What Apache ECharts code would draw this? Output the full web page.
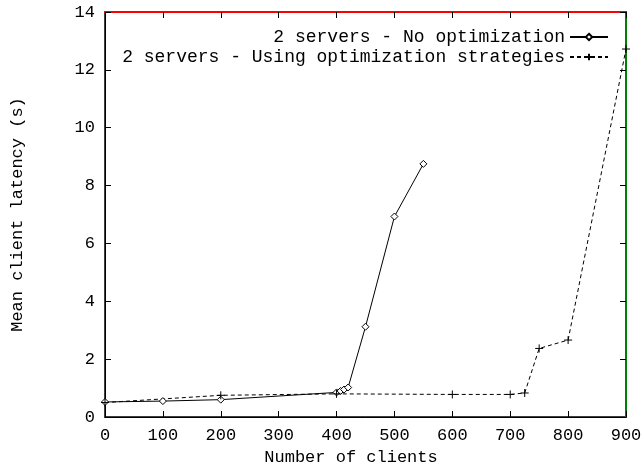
<!DOCTYPE html>
<html>
<head>
<meta charset="utf-8">
<script src="https://cdn.jsdelivr.net/npm/echarts@6/dist/echarts.min.js"></script>
<style>
html,body{margin:0;padding:0;background:#fff;}
#chart{width:642px;height:462px;}
</style>
</head>
<body>
<div id="chart"></div>
<script>
// Data
const seriesNames = ['2 servers - No optimization', '2 servers - Using optimization strategies'];
const clientsNoOpt = [0, 100, 200, 400, 407, 413, 420, 450, 500, 550];
const latencyNoOpt = [0.52, 0.55, 0.6, 0.85, 0.9, 0.95, 1.02, 3.12, 6.93, 8.75];
const clientsOpt = [0, 200, 400, 600, 700, 725, 750, 800, 900];
const latencyOpt = [0.5, 0.75, 0.8, 0.78, 0.78, 0.83, 2.37, 2.66, 12.72];
const xTicks = [0, 100, 200, 300, 400, 500, 600, 700, 800, 900];
const yTicks = [0, 2, 4, 6, 8, 10, 12, 14];

const FONT = 'Liberation Mono';
const FS = 17;
const pairs = (xs, ys) => xs.map((x, i) => [x, ys[i]]);

const chart = echarts.init(document.getElementById('chart'));

chart.setOption({
  animation: false,
  textStyle: {fontFamily: FONT, color: '#000'},
  grid: {left: 105, right: 16, top: 12, bottom: 45, outerBoundsMode: 'none',
         show: true, borderColor: '#000', borderWidth: 1.5},
  legend: {
    orient: 'vertical', align: 'right', right: 28, top: 23,
    itemWidth: 38, itemHeight: 8, itemGap: 2,
    textStyle: {fontFamily: FONT, fontSize: 18, color: '#000'},
    data: seriesNames
  },
  xAxis: [
    {type: 'value', min: xTicks[0], max: xTicks[xTicks.length - 1], interval: 100, position: 'bottom',
     axisLine: {show: true, onZero: false, lineStyle: {color: '#000'}},
     axisTick: {inside: true, length: 6}, splitLine: {show: false},
     axisLabel: {margin: 10, fontFamily: FONT, fontSize: FS, color: '#000'},
     name: 'Number of clients', nameLocation: 'middle', nameGap: 27,
     nameTextStyle: {fontFamily: FONT, fontSize: FS, color: '#000', padding: [0, 29, 0, 0]}},
    {type: 'value', min: xTicks[0], max: xTicks[xTicks.length - 1], interval: 100, position: 'top',
     axisLine: {show: true, onZero: false, lineStyle: {color: 'red', width: 2}},
     axisTick: {inside: true, length: 6, lineStyle: {color: '#000'}}, splitLine: {show: false}, axisLabel: {show: false}}
  ],
  yAxis: [
    {type: 'value', min: yTicks[0], max: yTicks[yTicks.length - 1], interval: 2, position: 'left',
     axisLine: {show: true, onZero: false, lineStyle: {color: '#000'}},
     axisTick: {show: true, inside: true, length: 6}, splitLine: {show: false},
     axisLabel: {margin: 10, fontFamily: FONT, fontSize: FS, color: '#000'},
     name: 'Mean client latency (s)', nameLocation: 'middle', nameGap: 79,
     nameTextStyle: {fontFamily: FONT, fontSize: FS, color: '#000'}},
    {type: 'value', min: yTicks[0], max: yTicks[yTicks.length - 1], interval: 2, position: 'right',
     axisLine: {show: true, onZero: false, lineStyle: {color: 'green', width: 2}},
     axisTick: {show: true, inside: true, length: 6, lineStyle: {color: '#000'}}, splitLine: {show: false}, axisLabel: {show: false}}
  ],
  series: [
    {
      name: seriesNames[0], type: 'line',
      data: pairs(clientsNoOpt, latencyNoOpt),
      symbol: 'diamond', symbolSize: 7,
      lineStyle: {color: '#000', width: 1, type: 'solid'},
      itemStyle: {color: '#fff', borderColor: '#000', borderWidth: 1}
    },
    {
      name: seriesNames[1], type: 'line',
      data: pairs(clientsOpt, latencyOpt),
      symbol: 'path://M0,5L10,5M5,0L5,10', symbolSize: 8,
      lineStyle: {color: '#000', width: 1, type: [4, 3]},
      itemStyle: {color: '#000', borderColor: '#000', borderWidth: 1}
    },
    {
      name: 'mirror', type: 'line', xAxisIndex: 1, yAxisIndex: 1, data: []
    }
  ]
});
</script>
</body>
</html>
